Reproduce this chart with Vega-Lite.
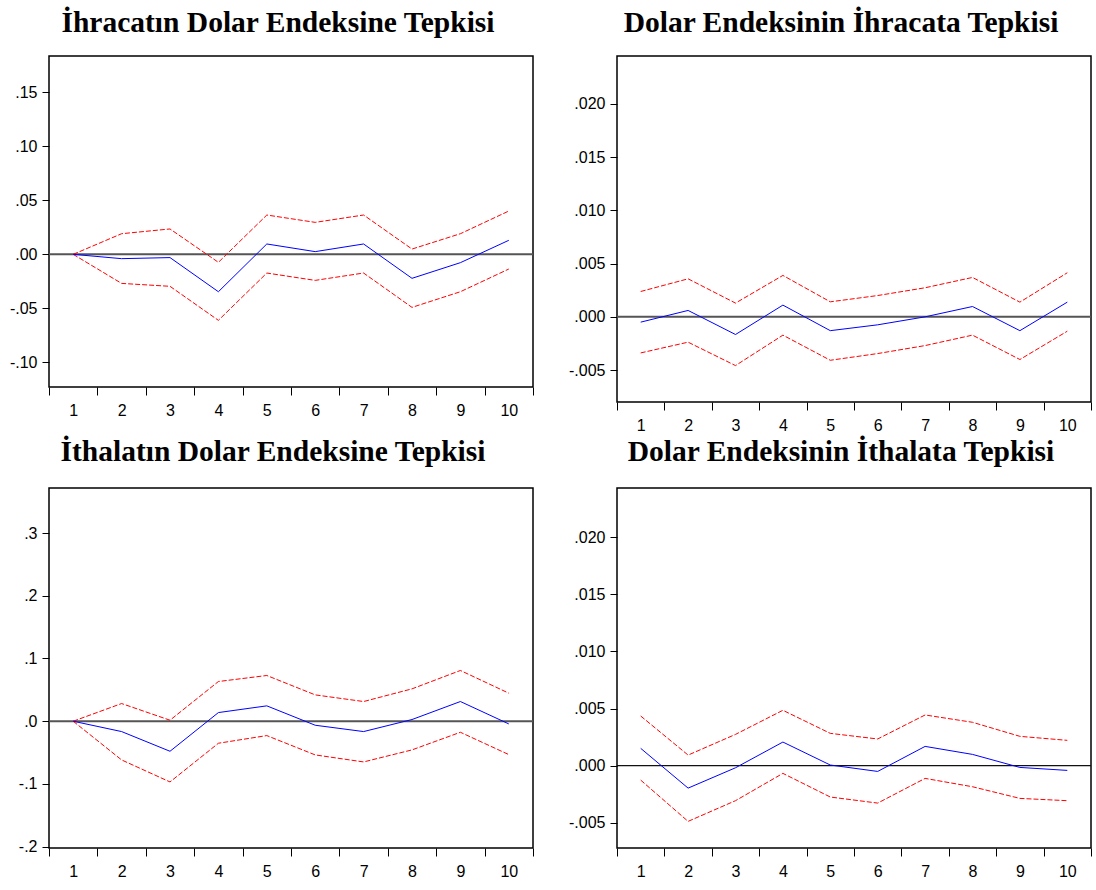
{
  "$schema": "https://vega.github.io/schema/vega-lite/v6.json",
  "background": "white",
  "padding": {"left": 8, "top": 6, "right": 2, "bottom": 2},
  "columns": 2,
  "align": "none",
  "spacing": {"row": 1, "column": 32},
  "datasets": {
    "p1": [
      {"step": 1, "resp": 0.0, "lo": 0.0, "hi": 0.0},
      {"step": 2, "resp": -0.004, "lo": -0.0269, "hi": 0.0191},
      {"step": 3, "resp": -0.003, "lo": -0.0296, "hi": 0.0235},
      {"step": 4, "resp": -0.0346, "lo": -0.0611, "hi": -0.0074},
      {"step": 5, "resp": 0.0096, "lo": -0.0173, "hi": 0.0364},
      {"step": 6, "resp": 0.0025, "lo": -0.0241, "hi": 0.0296},
      {"step": 7, "resp": 0.0096, "lo": -0.0173, "hi": 0.0364},
      {"step": 8, "resp": -0.0222, "lo": -0.0491, "hi": 0.0049},
      {"step": 9, "resp": -0.0077, "lo": -0.0346, "hi": 0.0191},
      {"step": 10, "resp": 0.013, "lo": -0.0136, "hi": 0.0401}
    ],
    "p2": [
      {"step": 1, "resp": -0.0005, "lo": -0.00339, "hi": 0.00238},
      {"step": 2, "resp": 0.0006, "lo": -0.00238, "hi": 0.00357},
      {"step": 3, "resp": -0.00166, "lo": -0.00458, "hi": 0.00129},
      {"step": 4, "resp": 0.0011, "lo": -0.00172, "hi": 0.00389},
      {"step": 5, "resp": -0.0013, "lo": -0.00408, "hi": 0.00141},
      {"step": 6, "resp": -0.00075, "lo": -0.00345, "hi": 0.0020},
      {"step": 7, "resp": 0.0, "lo": -0.0027, "hi": 0.00273},
      {"step": 8, "resp": 0.00097, "lo": -0.00172, "hi": 0.0037},
      {"step": 9, "resp": -0.0013, "lo": -0.00401, "hi": 0.00138},
      {"step": 10, "resp": 0.00138, "lo": -0.00135, "hi": 0.00414}
    ],
    "p3": [
      {"step": 1, "resp": 0.0, "lo": 0.0, "hi": 0.0},
      {"step": 2, "resp": -0.0165, "lo": -0.0617, "hi": 0.0282},
      {"step": 3, "resp": -0.0479, "lo": -0.0968, "hi": 0.0016},
      {"step": 4, "resp": 0.0138, "lo": -0.0351, "hi": 0.0633},
      {"step": 5, "resp": 0.0245, "lo": -0.0229, "hi": 0.0729},
      {"step": 6, "resp": -0.0064, "lo": -0.0537, "hi": 0.042},
      {"step": 7, "resp": -0.0165, "lo": -0.0649, "hi": 0.0314},
      {"step": 8, "resp": 0.0027, "lo": -0.0457, "hi": 0.0516},
      {"step": 9, "resp": 0.0314, "lo": -0.0176, "hi": 0.0809},
      {"step": 10, "resp": -0.0043, "lo": -0.0532, "hi": 0.0447}
    ],
    "p4": [
      {"step": 1, "resp": 0.00152, "lo": -0.00126, "hi": 0.00435},
      {"step": 2, "resp": -0.00196, "lo": -0.00487, "hi": 0.00093},
      {"step": 3, "resp": -0.00018, "lo": -0.00306, "hi": 0.00274},
      {"step": 4, "resp": 0.00207, "lo": -0.00067, "hi": 0.00485},
      {"step": 5, "resp": 0.00006, "lo": -0.00274, "hi": 0.00283},
      {"step": 6, "resp": -0.0005, "lo": -0.00327, "hi": 0.00234},
      {"step": 7, "resp": 0.00169, "lo": -0.00111, "hi": 0.00444},
      {"step": 8, "resp": 0.00099, "lo": -0.00184, "hi": 0.0038},
      {"step": 9, "resp": -0.00015, "lo": -0.00286, "hi": 0.00257},
      {"step": 10, "resp": -0.00041, "lo": -0.00306, "hi": 0.00222}
    ],
    "zero": [{"v": 0}]
  },
  "config": {
    "view": {"stroke": "black", "strokeWidth": 1.5},
    "title": {"font": "Liberation Serif", "fontSize": 29.5, "fontWeight": "bold", "color": "black", "anchor": "middle", "baseline": "alphabetic", "dx": -13},
    "axis": {
      "grid": false, "domain": false, "title": null,
      "labelFont": "Liberation Sans", "labelFontSize": 16, "labelColor": "black",
      "tickColor": "black", "tickWidth": 1, "labelOverlap": false, "labelFlush": false, "labelBound": false
    },
    "axisY": {"tickSize": 7, "labelPadding": 5},
    "axisX": {"tickSize": 8, "labelPadding": 7, "labelAngle": 0, "tickBand": "extent"}
  },
  "concat": [
    {
      "width": 484, "height": 331,
      "title": {"text": "İhracatın Dolar Endeksine Tepkisi", "offset": 18},
      "layer": [
        {"data": {"name": "zero"}, "mark": {"type": "rule", "color": "#555555", "strokeWidth": 2},
         "encoding": {"y": {"field": "v", "type": "quantitative", "scale": {"domain": [-0.1228, 0.1836], "nice": false, "zero": false},
           "axis": {"values": [-0.10, -0.05, 0, 0.05, 0.10, 0.15], "labelOverlap": false, "labelExpr": "replace(replace(format(datum.value, '.2f'), '0.', '.'), '\u2212', '-')"}}}},
        {"data": {"name": "p1"}, "mark": {"type": "line", "color": "#ff0000", "strokeWidth": 1, "strokeDash": [5, 2]},
         "encoding": {"x": {"field": "step", "type": "ordinal", "bandPosition": 0.5, "scale": {"type": "band", "paddingInner": 0, "paddingOuter": 0},
           "axis": {"tickBand": "extent", "labelAngle": 0, "tickSize": 8, "labelPadding": 7}},
           "y": {"field": "hi", "type": "quantitative"}}},
        {"data": {"name": "p1"}, "mark": {"type": "line", "color": "#ff0000", "strokeWidth": 1, "strokeDash": [5, 2]},
         "encoding": {"x": {"field": "step", "type": "ordinal", "bandPosition": 0.5}, "y": {"field": "lo", "type": "quantitative"}}},
        {"data": {"name": "p1"}, "mark": {"type": "line", "color": "#0000ff", "strokeWidth": 1},
         "encoding": {"x": {"field": "step", "type": "ordinal", "bandPosition": 0.5}, "y": {"field": "resp", "type": "quantitative"}}}
      ]
    },
    {
      "width": 474, "height": 346,
      "title": {"text": "Dolar Endeksinin İhracata Tepkisi", "offset": 18},
      "layer": [
        {"data": {"name": "zero"}, "mark": {"type": "rule", "color": "#555555", "strokeWidth": 2},
         "encoding": {"y": {"field": "v", "type": "quantitative", "scale": {"domain": [-0.0080, 0.0245], "nice": false, "zero": false},
           "axis": {"values": [-0.005, 0, 0.005, 0.010, 0.015, 0.020], "labelOverlap": false, "labelExpr": "replace(replace(format(datum.value, '.3f'), '0.', '.'), '\u2212', '-')"}}}},
        {"data": {"name": "p2"}, "mark": {"type": "line", "color": "#ff0000", "strokeWidth": 1, "strokeDash": [5, 2]},
         "encoding": {"x": {"field": "step", "type": "ordinal", "bandPosition": 0.5, "scale": {"type": "band", "paddingInner": 0, "paddingOuter": 0},
           "axis": {"tickBand": "extent", "labelAngle": 0, "tickSize": 8, "labelPadding": 7}},
           "y": {"field": "hi", "type": "quantitative"}}},
        {"data": {"name": "p2"}, "mark": {"type": "line", "color": "#ff0000", "strokeWidth": 1, "strokeDash": [5, 2]},
         "encoding": {"x": {"field": "step", "type": "ordinal", "bandPosition": 0.5}, "y": {"field": "lo", "type": "quantitative"}}},
        {"data": {"name": "p2"}, "mark": {"type": "line", "color": "#0000ff", "strokeWidth": 1},
         "encoding": {"x": {"field": "step", "type": "ordinal", "bandPosition": 0.5}, "y": {"field": "resp", "type": "quantitative"}}}
      ]
    },
    {
      "width": 484, "height": 360,
      "title": {"text": "İthalatın Dolar Endeksine Tepkisi", "offset": 21, "dx": -18},
      "layer": [
        {"data": {"name": "zero"}, "mark": {"type": "rule", "color": "#555555", "strokeWidth": 2},
         "encoding": {"y": {"field": "v", "type": "quantitative", "scale": {"domain": [-0.2021, 0.3718], "nice": false, "zero": false},
           "axis": {"values": [-0.2, -0.1, 0, 0.1, 0.2, 0.3], "labelOverlap": false, "labelExpr": "replace(replace(format(datum.value, '.1f'), '0.', '.'), '\u2212', '-')"}}}},
        {"data": {"name": "p3"}, "mark": {"type": "line", "color": "#ff0000", "strokeWidth": 1, "strokeDash": [5, 2]},
         "encoding": {"x": {"field": "step", "type": "ordinal", "bandPosition": 0.5, "scale": {"type": "band", "paddingInner": 0, "paddingOuter": 0},
           "axis": {"tickBand": "extent", "labelAngle": 0, "tickSize": 8, "labelPadding": 7}},
           "y": {"field": "hi", "type": "quantitative"}}},
        {"data": {"name": "p3"}, "mark": {"type": "line", "color": "#ff0000", "strokeWidth": 1, "strokeDash": [5, 2]},
         "encoding": {"x": {"field": "step", "type": "ordinal", "bandPosition": 0.5}, "y": {"field": "lo", "type": "quantitative"}}},
        {"data": {"name": "p3"}, "mark": {"type": "line", "color": "#0000ff", "strokeWidth": 1},
         "encoding": {"x": {"field": "step", "type": "ordinal", "bandPosition": 0.5}, "y": {"field": "resp", "type": "quantitative"}}}
      ]
    },
    {
      "width": 474, "height": 360,
      "title": {"text": "Dolar Endeksinin İthalata Tepkisi", "offset": 21},
      "layer": [
        {"data": {"name": "zero"}, "mark": {"type": "rule", "color": "#111111", "strokeWidth": 1.2},
         "encoding": {"y": {"field": "v", "type": "quantitative", "scale": {"domain": [-0.0072, 0.0243], "nice": false, "zero": false},
           "axis": {"values": [-0.005, 0, 0.005, 0.010, 0.015, 0.020], "labelOverlap": false, "labelExpr": "replace(replace(format(datum.value, '.3f'), '0.', '.'), '\u2212', '-')"}}}},
        {"data": {"name": "p4"}, "mark": {"type": "line", "color": "#ff0000", "strokeWidth": 1, "strokeDash": [5, 2]},
         "encoding": {"x": {"field": "step", "type": "ordinal", "bandPosition": 0.5, "scale": {"type": "band", "paddingInner": 0, "paddingOuter": 0},
           "axis": {"tickBand": "extent", "labelAngle": 0, "tickSize": 8, "labelPadding": 7}},
           "y": {"field": "hi", "type": "quantitative"}}},
        {"data": {"name": "p4"}, "mark": {"type": "line", "color": "#ff0000", "strokeWidth": 1, "strokeDash": [5, 2]},
         "encoding": {"x": {"field": "step", "type": "ordinal", "bandPosition": 0.5}, "y": {"field": "lo", "type": "quantitative"}}},
        {"data": {"name": "p4"}, "mark": {"type": "line", "color": "#0000ff", "strokeWidth": 1},
         "encoding": {"x": {"field": "step", "type": "ordinal", "bandPosition": 0.5}, "y": {"field": "resp", "type": "quantitative"}}}
      ]
    }
  ]
}
